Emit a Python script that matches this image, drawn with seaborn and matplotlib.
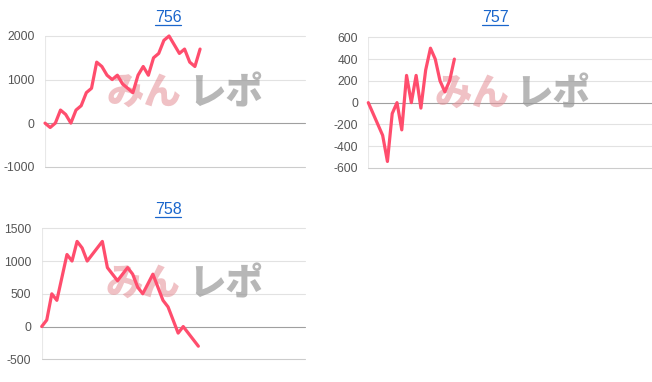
import matplotlib
matplotlib.use("Agg")
import matplotlib.pyplot as plt
import pandas as pd
import seaborn as sns
from matplotlib.lines import Line2D

# ---- data ----
titles = ["756", "757", "758"]
vals_756 = [0, -100, 0, 300, 200, 0, 300, 400, 700, 800, 1400, 1300, 1100, 1000,
            1100, 900, 800, 700, 1100, 1300, 1100, 1500, 1600, 1900, 2000, 1800,
            1600, 1700, 1400, 1300, 1700]
vals_757 = [0, -100, -200, -300, -540, -100, 0, -250, 250, 0, 250, -50, 300, 500,
            400, 200, 100, 200, 400]
vals_758 = [0, 100, 500, 400, 750, 1100, 1000, 1300, 1200, 1000, 1100, 1200, 1300,
            900, 800, 700, 800, 900, 800, 600, 500, 650, 800, 600, 400, 300, 100,
            -100, 0, -100, -200, -300]
yticks_756 = [-1000, 0, 1000, 2000]
yticks_757 = [-600, -400, -200, 0, 200, 400, 600]
yticks_758 = [-500, 0, 500, 1000, 1500]
wm_left, wm_right = "みん", "レポ"

LINE = "#ff4d6d"
TITLE_C = "#1a66cc"

sns.set_theme(style="white")
plt.rcParams['font.family'] = ['Liberation Sans', 'Noto Sans CJK JP', 'DejaVu Sans']

W, H = 652, 382
fig = plt.figure(figsize=(W / 100, H / 100), dpi=100)
fig.patch.set_facecolor("white")


def px_axes(l, t, r, b):
    return fig.add_axes([l / W, 1 - b / H, (r - l) / W, (b - t) / H])


panels = [
    dict(title=titles[0], vals=vals_756, ticks=yticks_756, box=(45, 36, 305, 166.7),
         xmax=50.3, tx=168, ty=18, wm=(144, 226, 93)),
    dict(title=titles[1], vals=vals_757, ticks=yticks_757, box=(368.3, 37.3, 660, 168),
         xmax=61.0, tx=495, ty=18, wm=(472, 553, 94)),
    dict(title=titles[2], vals=vals_758, ticks=yticks_758, box=(41.7, 228.3, 305, 359.3),
         xmax=52.1, tx=168, ty=210, wm=(143.5, 226, 284)),
]

title_texts = []
for p in panels:
    ax = px_axes(*p["box"])
    ax.set_facecolor("none")
    df = pd.DataFrame({"x": range(len(p["vals"])), "y": p["vals"]})
    sns.lineplot(data=df, x="x", y="y", ax=ax, color=LINE, linewidth=2.3,
                 zorder=5)
    for ln in ax.lines:
        ln.set_solid_joinstyle("round")
        ln.set_clip_on(False)
    ticks = p["ticks"]
    ax.set_xlim(0, p["xmax"])
    ax.set_ylim(ticks[0], ticks[-1])
    ax.set_yticks(ticks)
    ax.set_yticklabels([str(t) for t in ticks])
    ax.set_xticks([])
    ax.set_xlabel("")
    ax.set_ylabel("")
    for s in ax.spines.values():
        s.set_visible(False)
    for t in ticks:
        if t == 0:
            c = "#a0a0a0"
        elif t == ticks[0]:
            c = "#cccccc"
        else:
            c = "#e2e2e2"
        ax.axhline(t, color=c, lw=0.8, zorder=0.5, clip_on=False)
    ax.axvline(0, color="#e8e8e8", lw=0.8, zorder=0.4)
    ax.tick_params(axis="y", length=0, pad=7.5, labelsize=8.7, labelcolor="#555555")
    # watermark
    xl, xr, yc = p["wm"]
    ax.text(xl / W, 1 - yc / H, wm_left, transform=fig.transFigure, ha="center",
            va="center", fontsize=27, fontweight="heavy", color="#e48f96", alpha=0.55,
            family=["Noto Sans CJK JP"], zorder=1, clip_on=False)
    ax.text(xr / W, 1 - yc / H, wm_right, transform=fig.transFigure, ha="center",
            va="center", fontsize=27, fontweight="heavy", color="#999999", alpha=0.7,
            family=["Noto Sans CJK JP"], zorder=1, clip_on=False)
    tt = fig.text(p["tx"] / W, 1 - p["ty"] / H, p["title"], ha="center", va="center",
                  fontsize=11.5, color=TITLE_C)
    title_texts.append(tt)

fig.canvas.draw()
r = fig.canvas.get_renderer()
for tt in title_texts:
    bb = tt.get_window_extent(r)
    y = (bb.y0 + 0.5) / H
    fig.add_artist(Line2D([bb.x0 / W, bb.x1 / W], [y, y], color=TITLE_C, lw=0.9))

fig.savefig("out.png", dpi=100, facecolor="white")
